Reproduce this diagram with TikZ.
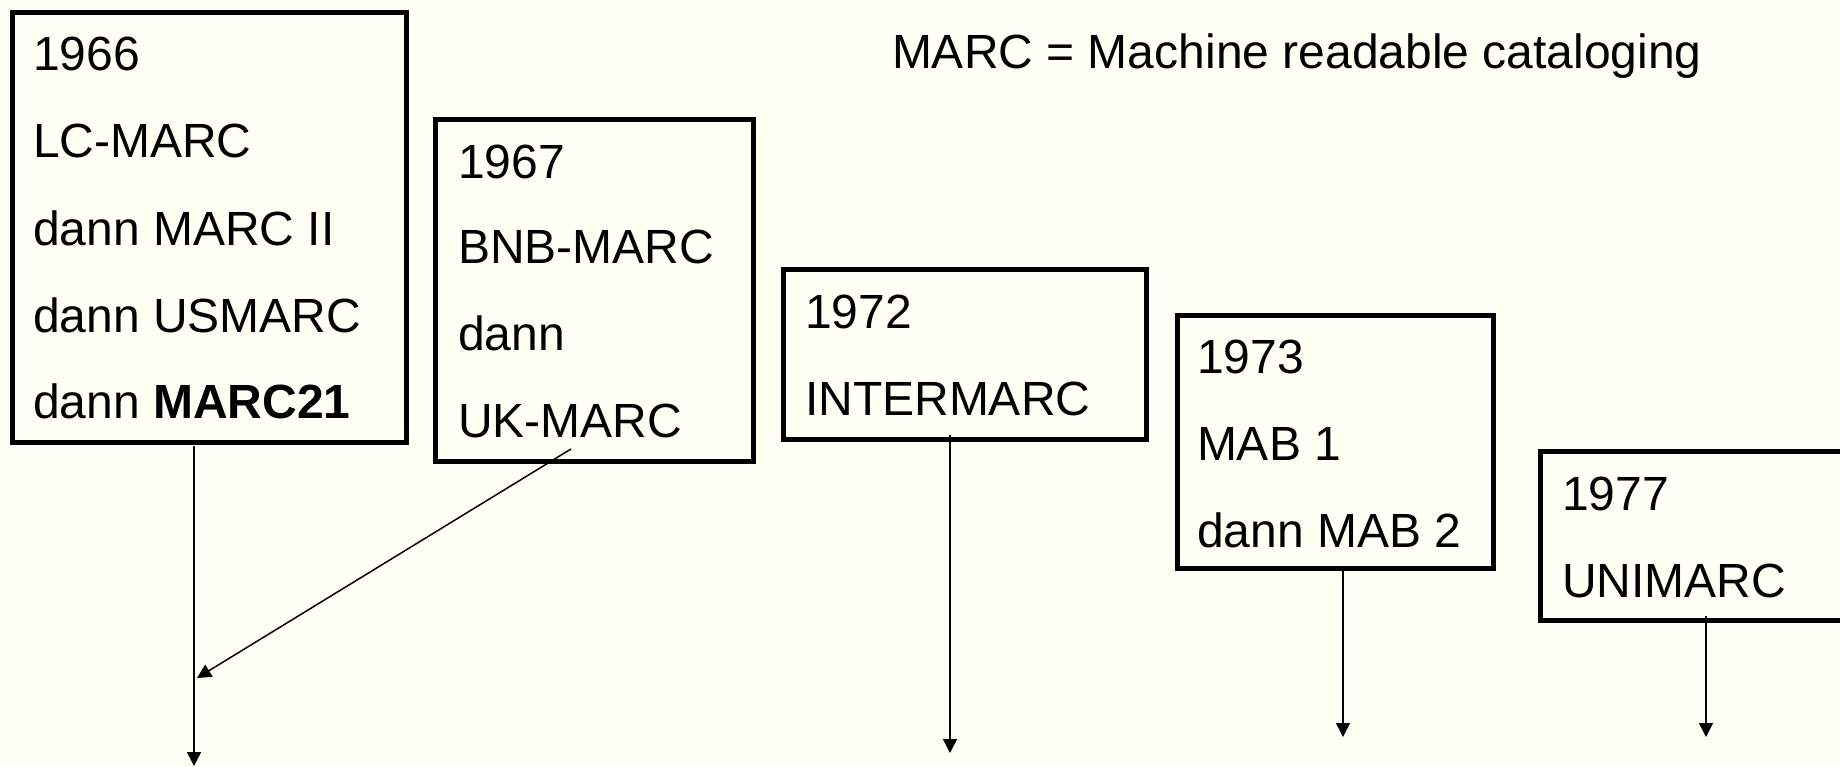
\documentclass[tikz,border=0pt]{standalone}
\usepackage{fontspec}
\setmainfont{Liberation Sans}
\usetikzlibrary{arrows.meta}
\definecolor{bgcream}{RGB}{255,255,246}
\begin{document}
\begin{tikzpicture}[x=1pt,y=-1pt,
  yearbox/.style={draw=black, line width=5pt, inner sep=0pt, outer sep=0pt, anchor=north west},
  txt/.style={anchor=base west, inner sep=0pt, outer sep=0pt, font=\fontsize{48}{57}\selectfont},
  conn/.style={draw=black, line width=1.5pt, -{Triangle[width=14pt,length=14pt]}}]
\path[use as bounding box, fill=bgcream] (0,0) rectangle (1840,766);
\clip (0,0) rectangle (1840,766);
% boxes
\node[yearbox, minimum width=394pt, minimum height=430pt] (b1) at (12,12) {};
\node[yearbox, minimum width=317.5pt, minimum height=342pt] (b2) at (435.5,119) {};
\node[yearbox, minimum width=363pt, minimum height=170pt] (b3) at (783,269) {};
\node[yearbox, minimum width=316pt, minimum height=252.5pt] (b4) at (1177,315.5) {};
\node[yearbox, minimum width=330pt, minimum height=169pt] (b5) at (1540,451) {};
% title
\node[txt] (title) at (892,68) {MARC = Machine readable cataloging};
% box 1 text
\node[txt] (t1a) at (33,70) {1966};
\node[txt] (t1b) at (33,157) {LC-MARC};
\node[txt] (t1c) at (33,245) {dann MARC II};
\node[txt] (t1d) at (33,332) {dann USMARC};
\node[txt] (t1e) at (33,418) {dann \textbf{MARC21}};
% box 2 text
\node[txt] (t2a) at (458,178) {1967};
\node[txt] (t2b) at (458,263) {BNB-MARC};
\node[txt] (t2c) at (458,350) {dann};
\node[txt] (t2d) at (458,437) {UK-MARC};
% box 3 text
\node[txt] (t3a) at (805,328) {1972};
\node[txt] (t3b) at (805,415) {INTERMARC};
% box 4 text
\node[txt] (t4a) at (1197,373) {1973};
\node[txt] (t4b) at (1197,460) {MAB 1};
\node[txt] (t4c) at (1197,547) {dann MAB 2};
% box 5 text
\node[txt] (t5a) at (1562,510) {1977};
\node[txt] (t5b) at (1562,597) {UNIMARC};
% connector end points
\coordinate (s1) at (194,446);
\coordinate (e1) at (194,766);
\coordinate (s2) at (571,449);
\coordinate (e2) at (197,678);
\coordinate (s3) at (950,435);
\coordinate (e3) at (950,753);
\coordinate (s4) at (1343,571);
\coordinate (e4) at (1343,737);
\coordinate (s5) at (1706,616);
\coordinate (e5) at (1706,737);
\draw[conn] (s1) -- (e1);
\draw[conn] (s2) -- (e2);
\draw[conn] (s3) -- (e3);
\draw[conn] (s4) -- (e4);
\draw[conn] (s5) -- (e5);
\end{tikzpicture}
\end{document}
